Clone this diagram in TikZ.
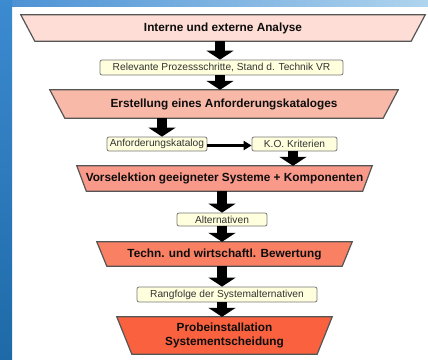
\documentclass[tikz,border=0pt]{standalone}
\usepackage{fontspec}
\setmainfont{Liberation Sans}
\usetikzlibrary{arrows.meta,backgrounds}
\definecolor{bgtopL}{HTML}{4A90D4}
\definecolor{bgtopR}{HTML}{B0D4EE}
\definecolor{leftT}{HTML}{3C8AD0}
\definecolor{leftB}{HTML}{1E6AA8}
\definecolor{trapA}{HTML}{FDDDD5}
\definecolor{trapB}{HTML}{F9B9A8}
\definecolor{trapC}{HTML}{F9998A}
\definecolor{trapD}{HTML}{FA8063}
\definecolor{trapE}{HTML}{F9613F}
\definecolor{noteFill}{HTML}{FFFFDD}
\definecolor{edgeGray}{HTML}{555555}
\newcommand{\trapshape}[3]{%
  \begin{pgfonlayer}{background}
    \draw[trapline, fill=#3] (#1.north west) -- (#1.north east) -- ([xshift=-#2]#1.south east) -- ([xshift=#2]#1.south west) -- cycle;
  \end{pgfonlayer}}
\tikzset{
  trap/.style={rectangle, inner sep=0pt, text=black!95, font=\fontsize{11.8}{13.5}\selectfont\bfseries},
  trapline/.style={draw=edgeGray, line width=1.2pt, line join=miter},
  note/.style={rectangle, rounded corners=2pt, draw=edgeGray!80, line width=0.8pt, fill=noteFill, inner sep=0pt, text=black!80, font=\fontsize{10.2}{11}\selectfont},
  fat/.style={draw=black, line width=10pt, -{Triangle[width=27pt,length=9pt]}},
  slim/.style={draw=black, line width=2.5pt, -{Triangle[width=9pt,length=8pt]}}
}
\begin{document}
\begin{tikzpicture}[x=1pt,y=-1pt]
\useasboundingbox (0,0) rectangle (428,359);
\begin{pgfonlayer}{background}
  \fill[white] (0,0) rectangle (428,359);
  \shade[left color=bgtopL, right color=bgtopR] (0,0) rectangle (428,6);
  \shade[top color=leftT, bottom color=leftB] (0,0) rectangle (12,359);
\end{pgfonlayer}

\node[trap, minimum width=404pt, minimum height=26pt] (t1) at (223,28) {Interne und externe Analyse};
\node[note, minimum width=243pt, minimum height=15pt] (n2) at (221.5,67.5) {Relevante Prozessschritte, Stand d. Technik VR};
\node[trap, minimum width=348pt, minimum height=28pt] (t3) at (224,104) {Erstellung eines Anforderungskataloges};
\node[note, minimum width=100pt, minimum height=14pt] (n4a) at (157,144) {Anforderungskatalog};
\node[note, minimum width=85pt, minimum height=14pt] (n4b) at (294.5,144) {K.O. Kriterien};
\node[trap, minimum width=295pt, minimum height=25pt] (t5) at (224.5,178.5) {Vorselektion geeigneter Systeme + Komponenten};
\node[note, minimum width=90pt, minimum height=13pt] (n6) at (222,219.5) {Alternativen};
\node[trap, minimum width=255pt, minimum height=24pt] (t7) at (224.5,254) {Techn. und wirtschaftl. Bewertung};
\node[note, minimum width=180pt, minimum height=15pt] (n8) at (227,294.5) {Rangfolge der Systemalternativen};
\node[trap, minimum width=215pt, minimum height=37pt, align=center] (t9) at (224.5,335.5) {Probeinstallation\\Systementscheidung};

\trapshape{t1}{14pt}{trapA}
\trapshape{t3}{15pt}{trapB}
\trapshape{t5}{9.5pt}{trapC}
\trapshape{t7}{10pt}{trapD}
\trapshape{t9}{15pt}{trapE}

\draw[fat] ([xshift=-3pt]t1.south) -- ([xshift=-1.5pt]n2.north);
\draw[fat] ([xshift=-1.5pt]n2.south) -- ([xshift=-4pt]t3.north);
\draw[fat] ([xshift=-62pt]t3.south) -- ([xshift=5pt]n4a.north);
\draw[slim] ([yshift=-1.5pt]n4a.east) -- ([yshift=-1.5pt]n4b.west);
\draw[fat] ([xshift=-1.5pt]n4b.south) -- ([xshift=68.5pt]t5.north);
\draw[fat] ([xshift=-2.5pt]t5.south) -- (n6.north);
\draw[fat] (n6.south) -- ([xshift=-2.5pt]t7.north);
\draw[fat] ([xshift=-2.5pt]t7.south) -- ([xshift=-5pt]n8.north);
\draw[fat] ([xshift=-5pt]n8.south) -- ([xshift=-2.5pt]t9.north);
\end{tikzpicture}
\end{document}
